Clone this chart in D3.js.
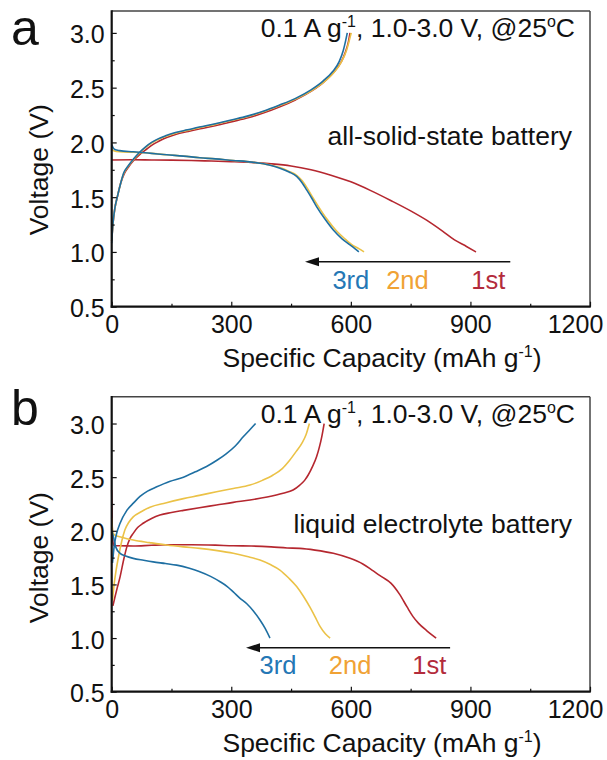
<!DOCTYPE html>
<html>
<head>
<meta charset="utf-8">
<script src="https://cdn.jsdelivr.net/npm/d3@7"></script>
<style>
  body { margin: 0; background: #fff; }
  text { font-family: "Liberation Sans", Arial, Helvetica, sans-serif; }
</style>
</head>
<body>
<svg id="chart" width="607" height="760"></svg>
<script>
// Galvanostatic charge/discharge profiles, [capacity mAh/g, voltage V]

// (a) all-solid-state battery
const solid1stDischarge = [[0,1.84],[50,1.842],[100,1.84],[150,1.838],[200,1.835],[250,1.83],[300,1.825],[350,1.818],[400,1.805],[450,1.785],[500,1.75],[550,1.70],[600,1.64],[650,1.56],[700,1.47],[750,1.375],[790,1.29],[830,1.19],[860,1.11],[890,1.05],[914,1.0]];
const solid2ndDischarge = [[0,1.94],[5,1.925],[20,1.915],[54,1.91],[100,1.90],[138,1.887],[180,1.875],[221,1.86],[260,1.85],[305,1.835],[340,1.825],[372,1.81],[400,1.792],[422,1.77],[445,1.735],[464,1.70],[478,1.65],[491,1.58],[504,1.50],[516,1.43],[540,1.30],[562,1.20],[585,1.12],[605,1.06],[620,1.03],[633,1.0]];
const solid3rdDischarge = [[0,1.98],[3,1.955],[8,1.935],[20,1.925],[54,1.915],[100,1.90],[138,1.887],[180,1.875],[221,1.86],[260,1.85],[305,1.835],[340,1.825],[372,1.81],[400,1.79],[422,1.765],[445,1.73],[464,1.69],[478,1.63],[489,1.567],[502,1.49],[514,1.414],[535,1.30],[556,1.20],[578,1.12],[598,1.064],[610,1.03],[620,1.0]];
const solid1stCharge = [[0,1.10],[3,1.25],[8,1.40],[14,1.50],[22,1.62],[31,1.71],[43,1.78],[56,1.84],[72,1.895],[88,1.94],[103,1.98],[118,2.01],[138,2.045],[162,2.075],[192,2.10],[222,2.125],[262,2.155],[302,2.19],[342,2.225],[382,2.27],[422,2.325],[462,2.39],[502,2.47],[532,2.55],[557,2.64],[575,2.73],[586,2.82],[594,2.92],[598,3.0]];
const solid2ndCharge = [[0,1.10],[3,1.25],[8,1.40],[14,1.50],[22,1.62],[30,1.715],[42,1.785],[55,1.845],[70,1.905],[85,1.955],[100,1.995],[115,2.025],[135,2.055],[160,2.085],[190,2.11],[220,2.135],[260,2.165],[300,2.20],[340,2.235],[380,2.28],[420,2.335],[460,2.395],[500,2.47],[532,2.55],[558,2.64],[577,2.74],[589,2.84],[596,2.93],[601,3.0]];
const solid3rdCharge = [[0,1.08],[3,1.25],[8,1.40],[14,1.50],[22,1.62],[30,1.72],[42,1.79],[55,1.85],[70,1.91],[85,1.96],[100,2.00],[115,2.03],[135,2.06],[160,2.09],[190,2.115],[220,2.14],[260,2.17],[300,2.205],[340,2.24],[380,2.285],[420,2.34],[460,2.40],[500,2.48],[530,2.56],[555,2.65],[571,2.74],[581,2.84],[587,2.93],[591,3.0]];

// (b) liquid electrolyte battery
const liquid1stDischarge = [[0,2.38],[1,2.10],[3,1.90],[6,1.86],[20,1.86],[54,1.858],[100,1.865],[150,1.87],[200,1.87],[260,1.866],[305,1.86],[350,1.858],[400,1.85],[440,1.84],[472,1.836],[510,1.82],[556,1.79],[598,1.743],[630,1.69],[653,1.634],[678,1.57],[701,1.51],[722,1.41],[741,1.29],[756,1.20],[770,1.137],[790,1.07],[814,1.0]];
const liquid2ndDischarge = [[0,2.12],[3,1.98],[8,1.96],[25,1.94],[54,1.914],[95,1.89],[138,1.867],[180,1.85],[221,1.836],[265,1.815],[305,1.79],[340,1.76],[372,1.727],[398,1.685],[422,1.634],[444,1.56],[464,1.48],[481,1.39],[497,1.29],[510,1.20],[523,1.106],[536,1.04],[548,1.0]];
const liquid3rdDischarge = [[0,2.00],[4,1.95],[10,1.85],[21,1.79],[35,1.765],[54,1.743],[80,1.725],[104,1.71],[135,1.695],[163,1.68],[195,1.65],[221,1.618],[248,1.575],[272,1.525],[290,1.48],[305,1.43],[322,1.37],[339,1.32],[356,1.25],[372,1.168],[385,1.09],[397,1.0]];
const liquid1stCharge = [[3,1.30],[8,1.38],[14,1.47],[21,1.57],[30,1.73],[38,1.85],[46,1.93],[54,1.976],[65,2.03],[79,2.07],[100,2.115],[121,2.147],[150,2.17],[180,2.19],[220,2.215],[263,2.24],[305,2.265],[347,2.287],[390,2.315],[430,2.35],[455,2.38],[472,2.426],[484,2.47],[493,2.52],[504,2.60],[514,2.69],[521,2.78],[527,2.876],[533,3.0]];
const liquid2ndCharge = [[2,1.35],[6,1.50],[11,1.63],[17,1.758],[25,1.90],[33,2.007],[43,2.08],[54,2.13],[75,2.18],[96,2.22],[135,2.26],[180,2.30],[220,2.33],[263,2.364],[305,2.395],[347,2.426],[378,2.47],[405,2.52],[428,2.58],[447,2.66],[463,2.74],[477,2.815],[488,2.90],[496,3.0]];
const liquid3rdCharge = [[2,1.70],[6,1.85],[12,1.97],[21,2.07],[38,2.19],[55,2.26],[71,2.32],[90,2.37],[113,2.41],[145,2.46],[180,2.50],[210,2.55],[238,2.60],[265,2.66],[288,2.72],[310,2.79],[330,2.876],[346,2.94],[361,3.0]];

// Axis ticks
const xTicks = [0, 300, 600, 900, 1200];
const xMinorTicks = [150, 450, 750, 1050];
const yTicks = [0.5, 1.0, 1.5, 2.0, 2.5, 3.0];
const yMinorTicks = [0.75, 1.25, 1.75, 2.25, 2.75];

// Cycle labels (centre capacity) and the arrow from the 1st toward the 3rd cycle
const cycleLabels = ["3rd", "2nd", "1st"];
const solidLabelCaps = [600, 742, 945];
const liquidLabelCaps = [417, 598, 797];
const solidArrow = [1000, 485];
const liquidArrow = [849, 337];

const colors = { "1st": "#b5272f", "2nd": "#ebc247", "3rd": "#1e6fa2" };
const labelColors = { "1st": "#b32b3c", "2nd": "#f0a235", "3rd": "#2477b5" };

const svg = d3.select("#chart");

const x = d3.scaleLinear().domain([0, 1200]).range([111.7, 590]);

function drawPanel(p) {
  const y = d3.scaleLinear().domain([0.5, p.yTop]).range([p.bottom, p.top]);
  const g = svg.append("g");

  const line = d3.line()
    .x(d => x(d[0]))
    .y(d => y(d[1]))
    .curve(d3.curveMonotoneX);

  // curves: 1st drawn first, 3rd on top
  p.series.forEach(s => {
    g.append("path")
      .attr("d", line(s.data))
      .attr("fill", "none")
      .attr("stroke", colors[s.cycle])
      .attr("stroke-width", 1.6)
      .attr("stroke-linejoin", "round");
  });

  // frame
  const [x0, x1] = x.range();
  g.append("line").attr("x1", x0).attr("x2", x1).attr("y1", p.top).attr("y2", p.top)
    .attr("stroke", "#444").attr("stroke-width", 1.5);
  g.append("line").attr("x1", x1).attr("x2", x1).attr("y1", p.top).attr("y2", p.bottom)
    .attr("stroke", "#444").attr("stroke-width", 1.5);

  // axes with inward ticks
  const xAxis = g.append("g").attr("transform", `translate(0,${p.bottom})`)
    .call(d3.axisBottom(x).tickValues(xTicks).tickSize(-5).tickPadding(9).tickFormat(d3.format("d")));
  const xMinor = g.append("g").attr("transform", `translate(0,${p.bottom})`)
    .call(d3.axisBottom(x).tickValues(xMinorTicks).tickSize(-3).tickFormat(""));
  const yAxis = g.append("g").attr("transform", `translate(${x0},0)`)
    .call(d3.axisLeft(y).tickValues(yTicks).tickSize(-5).tickPadding(7).tickFormat(d3.format(".1f")));
  const yMinor = g.append("g").attr("transform", `translate(${x0},0)`)
    .call(d3.axisLeft(y).tickValues(yMinorTicks).tickSize(-3).tickFormat(""));

  [xAxis, xMinor, yAxis, yMinor].forEach(a => {
    a.select(".domain").remove();
    a.selectAll(".tick line").attr("stroke", "#111").attr("stroke-width", 1.2);
    a.selectAll("text").attr("font-size", 25).attr("fill", "#111")
      .style("font-family", '"Liberation Sans", Arial, sans-serif');
  });
  yAxis.selectAll("text").attr("dy", "0.4em");
  // keep the last capacity label inside the page edge
  xAxis.selectAll(".tick text").filter(d => d === 1200).attr("dx", -15);

  g.append("line").attr("x1", x0 - 1).attr("x2", x1 + 0.75).attr("y1", p.bottom).attr("y2", p.bottom)
    .attr("stroke", "#111").attr("stroke-width", 2.2);
  g.append("line").attr("x1", x0).attr("x2", x0).attr("y1", p.top - 0.75).attr("y2", p.bottom + 1)
    .attr("stroke", "#111").attr("stroke-width", 2.2);

  // axis titles
  const xt = g.append("text")
    .attr("x", 382).attr("y", p.bottom + 60)
    .attr("text-anchor", "middle").attr("font-size", 26.5).attr("fill", "#111");
  xt.append("tspan").text("Specific Capacity (mAh g");
  xt.append("tspan").attr("font-size", 16).attr("dy", -10).text("-1");
  xt.append("tspan").attr("dy", 10).text(")");

  g.append("text")
    .attr("transform", `translate(48,${(y(0.5) + y(3.0)) / 2}) rotate(-90)`)
    .attr("text-anchor", "middle").attr("font-size", 26.5).attr("fill", "#111")
    .text("Voltage (V)");

  // panel letter
  g.append("text").attr("x", 11).attr("y", p.top + p.letterDy)
    .attr("font-size", 50).attr("fill", "#111").text(p.letter);

  // test conditions
  const cond = g.append("text")
    .attr("x", 575).attr("y", p.top + 26)
    .attr("text-anchor", "end").attr("font-size", 26.5).attr("fill", "#111");
  cond.append("tspan").text("0.1 A g");
  cond.append("tspan").attr("font-size", 16).attr("dy", -10).text("-1");
  cond.append("tspan").attr("dy", 10).text(", 1.0-3.0 V, @25");
  cond.append("tspan").attr("font-size", 16).attr("dy", -10).text("o");
  cond.append("tspan").attr("dy", 10).text("C");

  g.append("text").attr("x", 572).attr("y", p.top + p.nameDy)
    .attr("text-anchor", "end").attr("font-size", 26.5).attr("fill", "#111")
    .text(p.name);

  // arrow from 1st cycle toward 3rd cycle
  const ay = y(0.91);
  const ax0 = x(p.arrow[0]), ax1 = x(p.arrow[1]);
  g.append("line").attr("x1", ax0).attr("x2", ax1 + 10).attr("y1", ay).attr("y2", ay)
    .attr("stroke", "#111").attr("stroke-width", 1.6);
  g.append("path")
    .attr("d", `M${ax1},${ay} L${ax1 + 14},${ay - 4.5} L${ax1 + 14},${ay + 4.5} Z`)
    .attr("fill", "#111");

  cycleLabels.forEach((c, i) => {
    g.append("text").attr("x", x(p.labelCaps[i])).attr("y", y(0.665))
      .attr("text-anchor", "middle").attr("font-size", 25.5)
      .attr("fill", labelColors[c]).text(c);
  });
}

drawPanel({
  letter: "a", letterDy: 34, top: 11, bottom: 306.7, yTop: 3.2,
  name: "all-solid-state battery", nameDy: 134,
  arrow: solidArrow, labelCaps: solidLabelCaps,
  series: [
    { cycle: "1st", data: solid1stDischarge },
    { cycle: "1st", data: solid1stCharge },
    { cycle: "2nd", data: solid2ndDischarge },
    { cycle: "2nd", data: solid2ndCharge },
    { cycle: "3rd", data: solid3rdDischarge },
    { cycle: "3rd", data: solid3rdCharge }
  ]
});

drawPanel({
  letter: "b", letterDy: 28, top: 396.7, bottom: 691.7, yTop: 3.25,
  name: "liquid electrolyte battery", nameDy: 136,
  arrow: liquidArrow, labelCaps: liquidLabelCaps,
  series: [
    { cycle: "1st", data: liquid1stDischarge },
    { cycle: "1st", data: liquid1stCharge },
    { cycle: "2nd", data: liquid2ndDischarge },
    { cycle: "2nd", data: liquid2ndCharge },
    { cycle: "3rd", data: liquid3rdDischarge },
    { cycle: "3rd", data: liquid3rdCharge }
  ]
});
</script>
</body>
</html>
